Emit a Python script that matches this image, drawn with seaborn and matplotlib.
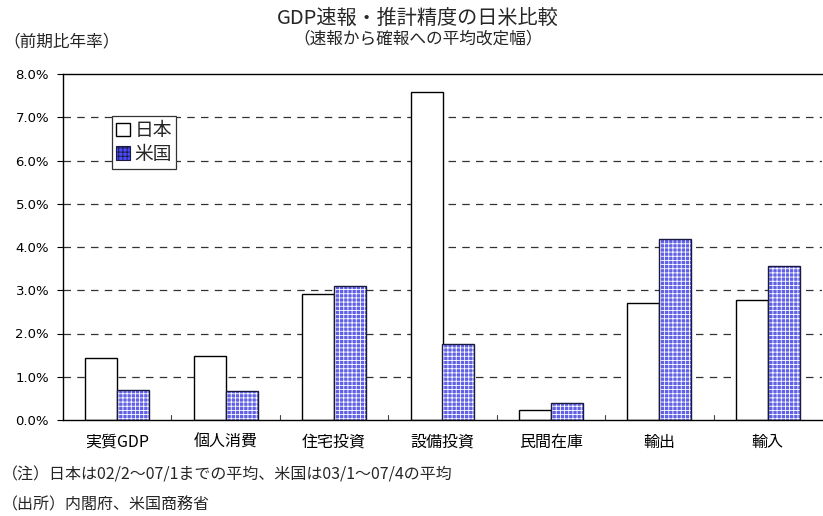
import matplotlib

matplotlib.use("Agg")
import matplotlib.pyplot as plt
import pandas as pd
import seaborn as sns
from matplotlib.patches import Patch, Rectangle

# --- Data (前期比年率の平均改定幅, %) ---
categories = ["実質GDP", "個人消費", "住宅投資", "設備投資", "民間在庫", "輸出", "輸入"]
japan = [1.44, 1.47, 2.91, 7.58, 0.23, 2.71, 2.77]
usa = [0.69, 0.67, 3.10, 1.76, 0.39, 4.18, 3.55]
series = ["日本", "米国"]
yticks = [0, 1, 2, 3, 4, 5, 6, 7, 8]


def main():
    sns.set_theme(style="white")
    plt.rcParams["font.family"] = ["Noto Sans CJK JP", "DejaVu Sans"]
    plt.rcParams["hatch.linewidth"] = 0.6

    df = pd.DataFrame(
        {
            "cat": categories * 2,
            "val": japan + usa,
            "country": [series[0]] * len(categories) + [series[1]] * len(categories),
        }
    )

    fig = plt.figure(figsize=(8.23, 5.16), dpi=100)
    ax = fig.add_axes([63 / 823, 1 - 420 / 516, 759 / 823, 346 / 516])

    sns.barplot(
        data=df,
        x="cat",
        y="val",
        hue="country",
        order=categories,
        hue_order=series,
        palette={"日本": "white", "米国": "#4a4aff"},
        width=0.59,
        gap=0,
        edgecolor="black",
        linewidth=1.0,
        legend=False,
        ax=ax,
    )

    # US bars: blue with a white grid pattern, dark outline on top
    n = len(categories)
    for p in ax.patches[n:2 * n]:
        p.set_hatch("++++")
        p.set_edgecolor("white")
        p.set_linewidth(0)
        ax.add_patch(
            Rectangle(
                p.get_xy(), p.get_width(), p.get_height(),
                fill=False, edgecolor="#1a1a40", linewidth=1.0, zorder=p.get_zorder() + 0.1,
            )
        )

    ax.set_ylim(0, 8)
    ax.set_xlim(-0.5, n - 0.5)
    ax.set_yticks(yticks)
    ax.set_yticklabels([f"{v:.1f}%" for v in yticks], fontsize=9.5, family=["Liberation Sans Narrow", "DejaVu Sans"])
    ax.set_xlabel("")
    ax.set_ylabel("")
    ax.tick_params(axis="x", length=0, pad=10, labelsize=11.5, colors="black")
    ax.tick_params(axis="y", length=4, width=0.8, direction="out", left=True, pad=6, colors="black")

    # inward tick marks at category boundaries
    for b in range(1, n):
        ax.plot([b - 0.5, b - 0.5], [0, 0.12], color="#444444", linewidth=0.8, zorder=1)

    for v in yticks[1:-1]:
        ax.axhline(v, color="#333333", linewidth=0.9, linestyle=(0, (6, 5)), zorder=0)

    for side in ["left", "bottom", "top"]:
        ax.spines[side].set_visible(True)
        ax.spines[side].set_color("black")
        ax.spines[side].set_linewidth(1.0)
    ax.spines["right"].set_visible(False)

    handles = [
        Patch(facecolor="white", edgecolor="black", linewidth=1.0, label=series[0]),
        Patch(facecolor="#4a4aff", edgecolor="#1a1a40", hatch="++++", linewidth=0.8, label=series[1]),
    ]
    leg = ax.legend(
        handles=handles,
        loc="upper left",
        bbox_to_anchor=(0.065, 0.878),
        fontsize=13.5,
        frameon=True,
        fancybox=False,
        edgecolor="#333333",
        framealpha=1,
        handlelength=0.75,
        handleheight=0.75,
        handletextpad=0.25,
        borderpad=0.2,
        labelspacing=0.15,
        borderaxespad=0,
    )
    leg.get_frame().set_linewidth(0.9)

    fig.text(0.508, 0.965, "GDP速報・推計精度の日米比較", ha="center", va="center", fontsize=14.5)
    fig.text(0.508, 0.925, "（速報から確報への平均改定幅）", ha="center", va="center", fontsize=12)
    fig.text(0.004, 0.918, "（前期比年率）", ha="left", va="center", fontsize=12)
    fig.text(0.002, 0.079, "（注）日本は02/2〜07/1までの平均、米国は03/1〜07/4の平均", ha="left", va="center", fontsize=11.5)
    fig.text(0.002, 0.021, "（出所）内閣府、米国商務省", ha="left", va="center", fontsize=11.5)

    fig.savefig("out.png", dpi=100)
    plt.close(fig)


if __name__ == "__main__":
    main()
